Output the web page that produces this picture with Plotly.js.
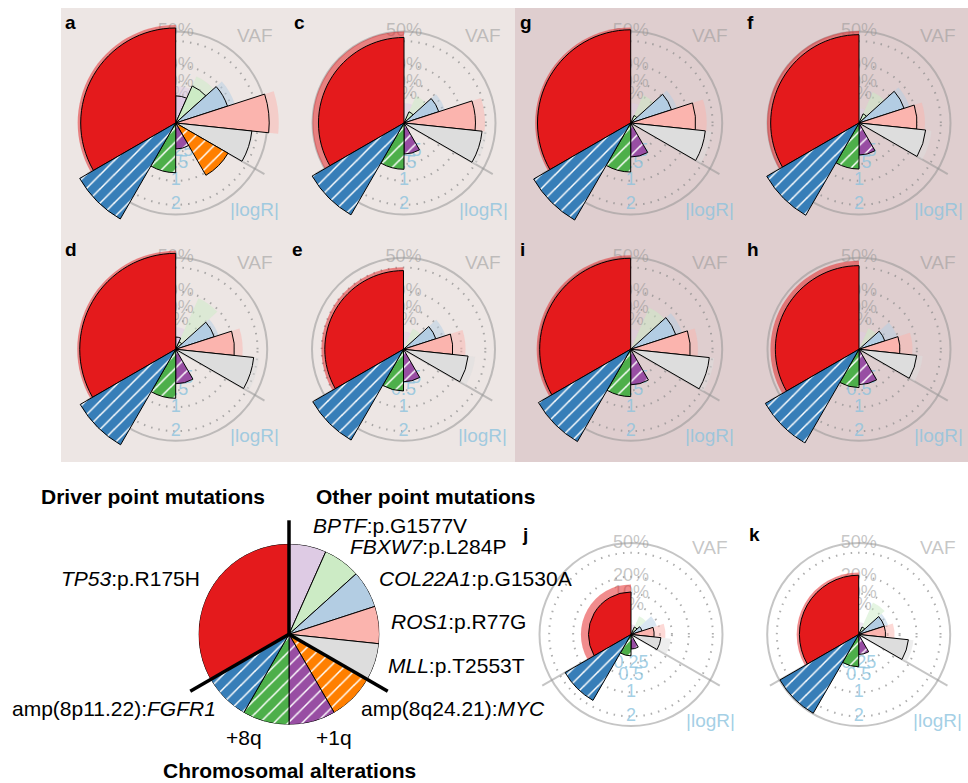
<!DOCTYPE html>
<html><head><meta charset="utf-8">
<script src="https://cdn.plot.ly/plotly-3.0.1.min.js"></script>
<style>html,body{margin:0;padding:0;background:#fff}#chart{width:968px;height:783px}</style>
</head><body><div id="chart"></div>
<script>
// ---------- data (panel order a, c, g, f, d, e, i, h, j, k) ----------
const panels = ['a','c','g','f','d','e','i','h','j','k'];
const pointMuts = ['BPTF','FBXW7','COL22A1','ROS1','MLL'];
const pointLabels = ['<i>BPTF</i>:p.G1577V','<i>FBXW7</i>:p.L284P','<i>COL22A1</i>:p.G1530A','<i>ROS1</i>:p.R77G','<i>MLL</i>:p.T2553T'];
const driverMut = 'TP53';
const driverLabel = '<i>TP53</i>:p.R175H';
const cnas = ['MYC','+1q','+8q','FGFR1'];
const cnaLabels = ['amp(8q24.21):<i>MYC</i>','+1q','+8q','amp(8p11.22):<i>FGFR1</i>'];

// VAF (solid wedge) and upper VAF (translucent wedge)
const vafTP53      = [0.539,0.437,0.519,0.466,0.550,0.370,0.495,0.418,0.108,0.210];
const vafTP53Hi    = [0.574,0.500,0.545,0.505,0.579,0.402,0.528,0.468,0.150,0.230];
const vafBPTF      = [0.044,0,0,0,0.009,0,0,0,0,0];
const vafBPTFHi    = [0.082,0.024,0.024,0.013,0.029,0.019,0.024,0.019,0.006,0.009];
const vafFBXW7     = [0.098,0.009,0.004,0.006,0.004,0,0,0,0.004,0.004];
const vafFBXW7Hi   = [0.155,0.052,0.056,0.069,0.187,0.031,0.124,0.032,0.024,0.073];
const vafCOL22A1   = [0.177,0.080,0.110,0.134,0.098,0.069,0.134,0.044,0.008,0.043];
const vafCOL22A1Hi = [0.230,0.110,0.140,0.168,0.121,0.116,0.174,0.096,0.044,0.057];
const vafROS1      = [0.522,0.305,0.252,0.201,0.206,0.145,0.212,0.100,0.032,0.043];
const vafROS1Hi    = [0.634,0.392,0.345,0.260,0.268,0.230,0.270,0.171,0.071,0.077];
const vafMLL       = [0.350,0.368,0.336,0.268,0.367,0.252,0.373,0.201,0.054,0.149];
const vafMLLHi     = [0.373,0.411,0.392,0.318,0.421,0.310,0.421,0.245,0.096,0.181];
// |logR| of chromosomal alterations
const logrMYC   = [1.09,0,0,0,0,0,0,0,0,0];
const logr1q    = [0.202,0.287,0.345,0.306,0.355,0.315,0.376,0.372,0.063,0.119];
const logr8q    = [0.738,0.640,0.717,0.632,0.717,0.519,0.668,0.438,0.136,0.311];
const logrFGFR1 = [3.67,3.36,3.75,3.39,3.63,3.28,3.39,3.50,1.73,2.47];

// radial tick labels
const vafTicks = [0.5,0.2,0.1,0.05];
const vafTickText = ['50%','20%','10%','5%'];
const logrTicks = [0.25,0.5,1,2];
const logrTickText = ['0.25','0.5','1','2'];
const vafMax = 0.5, logrMax = 2.5;   // both map to the outer circle (sqrt scale)

// colours
const colPoint = ['#DECBE4','#CCEBC5','#B3CDE3','#FBB4AE','#DDDDDD'];
const colTP53 = '#E41A1C';
const colCNA = ['#FF7F00','#984EA3','#4DAF4A','#377EB8'];

// ---------- layout geometry ----------
const W = 968, H = 783, U = 91.5;   // U = pixels of outer circle radius
const centers = [[175.7,123],[404,123],[630.7,123],[859,123],[175.7,349.3],[403.5,349.3],[630.7,349.3],[859,349.3],[631,634.5],[858.7,634.5]];
const letterPos = [[63,22],[292,22],[518,22],[745,22],[63,250],[290,250],[518,250],[745,250],[520,534],[747,534]];
const legendC = [289,634.3], legendR = 90.5, legendSpoke = 114;

const fontFam = 'Liberation Sans, Arial, sans-serif';
const gridCol = 'rgba(150,150,150,0.55)';
const vafCol = 'rgba(150,150,150,0.55)';
const logrCol = 'rgba(140,195,222,0.8)';

const rV = v => Math.sqrt(v / vafMax);
const rL = l => Math.sqrt(l / logrMax);
function hexA(h, a){const n=parseInt(h.slice(1),16);return `rgba(${n>>16&255},${n>>8&255},${n&255},${a})`;}
function dom(cx, cy, R){
  const c = v => Math.min(1, Math.max(0, v));
  return {x:[c((cx-R)/W), c((cx+R)/W)], y:[c(1-(cy+R)/H), c(1-(cy-R)/H)]};
}
// angular layout (clockwise from 12 o'clock): point mutations 0-120, CNAs 120-240, driver 240-360
const ptW = 120/pointMuts.length, cnW = 120/cnas.length;
const thPoint = pointMuts.map((_,i)=> ptW*(i+0.5));
const thCNA = cnas.map((_,i)=> 120 + cnW*(i+0.5));
const thTP53 = 300;

const layout = {width:W, height:H, margin:{l:0,r:0,t:0,b:0}, paper_bgcolor:'#fff', showlegend:false,
  hovermode:false, font:{family:fontFam}, shapes:[], annotations:[]};
const traces = [];
let nPolar = 0;
function newPolar(cfg){ nPolar++; const name = nPolar===1 ? 'polar' : 'polar'+nPolar; layout[name] = cfg; return name; }
const hiddenAng = {rotation:90, direction:'clockwise', showline:false, showgrid:false, showticklabels:false, ticks:''};
const hiddenRad = {showline:false, showgrid:false, showticklabels:false, ticks:''};
const hatch = col => ({shape:'/', fillmode:'replace', bgcolor:col, fgcolor:'#ffffff', fgopacity:1, size:10, solidity:0.15});

// backgrounds
layout.shapes.push({type:'rect', xref:'paper', yref:'paper', x0:61/W, x1:515/W, y0:1-462/H, y1:1-8/H, fillcolor:'rgb(237,230,228)', line:{width:0}, layer:'below'});
layout.shapes.push({type:'rect', xref:'paper', yref:'paper', x0:515/W, x1:1, y0:1-462/H, y1:1-8/H, fillcolor:'rgb(223,206,207)', line:{width:0}, layer:'below'});

const ringR = vafTicks.slice(1).map(rV).concat([rV(0.4)]);

// one hatched wedge per chromosomal alteration (scalar colour so the hatch keeps its colour)
function cnaTraces(subplot, rArr){
  cnas.forEach((c,k)=>{
    if(!(rArr[k] > 0)) return;
    traces.push({type:'barpolar', subplot:subplot, r:[rArr[k]], theta:[thCNA[k]], width:[cnW],
      marker:{color:colCNA[k], line:{width:1, color:'#000'}, pattern:hatch(colCNA[k])}, hoverinfo:'skip'});
  });
}

panels.forEach((p, i) => {
  const [cx, cy] = centers[i];
  // A: dotted rings, separators, tick labels
  const RA = 1.12;
  const A = newPolar({domain:dom(cx,cy,RA*U), bgcolor:'rgba(0,0,0,0)',
    radialaxis:{range:[0,RA], tickmode:'array', tickvals:ringR, showticklabels:false, ticks:'', showline:false,
      showgrid:true, gridcolor:'rgba(140,140,140,0.7)', gridwidth:2, griddash:'1.5px,6px'},
    angularaxis:{rotation:90, direction:'clockwise', tickmode:'array', tickvals:[120,240], showticklabels:false, ticks:'',
      showline:false, showgrid:true, gridcolor:gridCol, gridwidth:2}});
  traces.push({type:'scatterpolar', subplot:A, mode:'text', r:vafTicks.map(rV), theta:vafTicks.map(()=>0),
    text:vafTickText, textposition:'middle center', textfont:{size:18, color:vafCol, family:fontFam}, cliponaxis:false, hoverinfo:'skip'});
  traces.push({type:'scatterpolar', subplot:A, mode:'text', r:logrTicks.map(rL), theta:logrTicks.map(()=>180),
    text:logrTickText, textposition:'middle center', textfont:{size:18, color:logrCol, family:fontFam}, cliponaxis:false, hoverinfo:'skip'});
  // B: outer solid circle (50% VAF)
  const B = newPolar({domain:dom(cx,cy,U), bgcolor:'rgba(0,0,0,0)',
    radialaxis:Object.assign({range:[0,1]}, hiddenRad),
    angularaxis:Object.assign({}, hiddenAng, {showline:true, linecolor:gridCol, linewidth:2})});
  traces.push({type:'scatterpolar', subplot:B, mode:'markers', r:[0], theta:[0], marker:{size:1, opacity:0}, hoverinfo:'skip'});
  // C: wedges
  const RC = Math.min(118, W-cx-0.2, cx, cy, H-cy) ;
  const C = newPolar({domain:dom(cx,cy,RC), bgcolor:'rgba(0,0,0,0)', barmode:'overlay',
    radialaxis:Object.assign({range:[0,RC/U]}, hiddenRad), angularaxis:hiddenAng});
  const hi = [vafBPTFHi[i],vafFBXW7Hi[i],vafCOL22A1Hi[i],vafROS1Hi[i],vafMLLHi[i],vafTP53Hi[i]];
  const lo = [vafBPTF[i],vafFBXW7[i],vafCOL22A1[i],vafROS1[i],vafMLL[i],vafTP53[i]];
  const th = thPoint.concat([thTP53]);
  const wd = pointMuts.map(()=>ptW).concat([120]);
  const cols = colPoint.concat([colTP53]);
  const keep = (arr) => arr.map((v,k)=>[v,k]).filter(d=>d[0]>0).map(d=>d[1]);
  const kHi = keep(hi), kLo = keep(lo);
  traces.push({type:'barpolar', subplot:C, r:kHi.map(k=>rV(hi[k])), theta:kHi.map(k=>th[k]), width:kHi.map(k=>wd[k]),
    marker:{color:kHi.map(k=>hexA(cols[k],0.5)), line:{width:0}}, hoverinfo:'skip'});
  traces.push({type:'barpolar', subplot:C, r:kLo.map(k=>rV(lo[k])), theta:kLo.map(k=>th[k]), width:kLo.map(k=>wd[k]),
    marker:{color:kLo.map(k=>cols[k]), line:{width:1, color:'#000'}}, hoverinfo:'skip'});
  const lr = [logrMYC[i],logr1q[i],logr8q[i],logrFGFR1[i]];
  cnaTraces(C, lr.map(v => v > 0 ? rL(v) : 0));
  // annotations
  layout.annotations.push({xref:'paper', yref:'paper', x:letterPos[i][0]/W, y:1-letterPos[i][1]/H, xanchor:'left', yanchor:'middle',
    text:'<b>'+p+'</b>', showarrow:false, font:{size:19, color:'#000', family:fontFam}});
  layout.annotations.push({xref:'paper', yref:'paper', x:(cx+79)/W, y:1-(cy-87)/H, xanchor:'center', yanchor:'middle',
    text:'VAF', showarrow:false, font:{size:19, color:vafCol, family:fontFam}});
  layout.annotations.push({xref:'paper', yref:'paper', x:(cx+79)/W, y:1-(cy+86)/H, xanchor:'center', yanchor:'middle',
    text:'|logR|', showarrow:false, font:{size:19, color:logrCol, family:fontFam}});
});

// ---------- legend pie ----------
const L = newPolar({domain:dom(legendC[0],legendC[1],legendR), bgcolor:'rgba(0,0,0,0)', barmode:'overlay',
  radialaxis:Object.assign({range:[0,1]}, hiddenRad), angularaxis:hiddenAng});
traces.push({type:'barpolar', subplot:L, r:thPoint.concat([thTP53]).map(()=>1), theta:thPoint.concat([thTP53]),
  width:pointMuts.map(()=>ptW).concat([120]), marker:{color:colPoint.concat([colTP53]), line:{width:1,color:'#000'}}, hoverinfo:'skip'});
cnaTraces(L, cnas.map(()=>1));
const L2 = newPolar({domain:dom(legendC[0],legendC[1],legendSpoke), bgcolor:'rgba(0,0,0,0)',
  radialaxis:Object.assign({range:[0,1]}, hiddenRad),
  angularaxis:{rotation:90, direction:'clockwise', tickmode:'array', tickvals:[0,120,240], showticklabels:false, ticks:'',
    showline:false, showgrid:true, gridcolor:'#000', gridwidth:3.5}});
traces.push({type:'scatterpolar', subplot:L2, mode:'markers', r:[0], theta:[0], marker:{size:1, opacity:0}, hoverinfo:'skip'});

function ann(text, x, y, xa, size, extra){
  layout.annotations.push(Object.assign({xref:'paper', yref:'paper', x:x/W, y:1-y/H, xanchor:xa, yanchor:'middle',
    text:text, showarrow:false, font:{size:size, color:'#000', family:fontFam}}, extra||{}));
}
ann('<b>Driver point mutations</b>', 152.7, 496, 'center', 21);
ann('<b>Other point mutations</b>', 425, 496, 'center', 21);
ann('<b>Chromosomal alterations</b>', 289, 770.5, 'center', 21);
ann(driverLabel, 202, 578.3, 'right', 21);
const ptLabelPos = [[310.7,525.7],[348,546],[376.8,578.3],[389,621.7],[385.7,665]];
pointLabels.forEach((t,k)=> ann(t, ptLabelPos[k][0], ptLabelPos[k][1], 'left', 21));
ann(cnaLabels[0], 359, 708.3, 'left', 21);
ann(cnaLabels[1], 333.5, 737, 'center', 21);
ann(cnaLabels[2], 244.5, 737, 'center', 21);
ann(cnaLabels[3], 218, 708.3, 'right', 21);

Plotly.newPlot('chart', traces, layout, {staticPlot:true, displayModeBar:false});
</script></body></html>
